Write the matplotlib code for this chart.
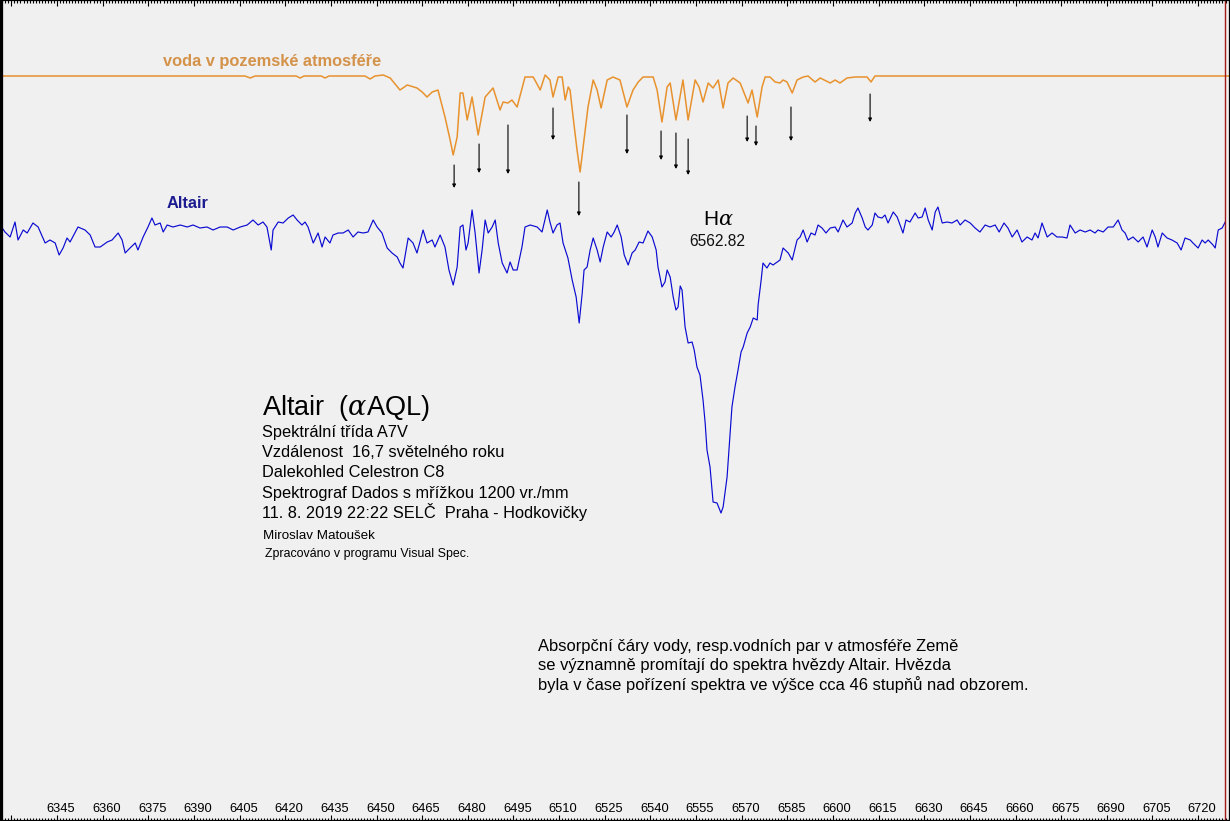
import matplotlib
matplotlib.use('Agg')
import matplotlib.pyplot as plt
from matplotlib.ticker import MultipleLocator

plt.rcParams['font.family'] = ['Liberation Sans', 'DejaVu Sans']
plt.rcParams['mathtext.fontset'] = 'custom'
plt.rcParams['mathtext.it'] = 'DejaVu Serif:italic'
plt.rcParams['mathtext.rm'] = 'Liberation Sans'

# ---- Altair spectrum (wavelength in Angstrom, relative intensity, arbitrary units) ----
altair_wl = [6327.0, 6327.9, 6329.6, 6331.2, 6332.2, 6333.9, 6335.2, 6337.1, 6338.8, 6341.1,
             6342.7, 6344.4, 6345.7, 6347.0, 6348.3, 6349.3, 6351.9, 6354.2, 6355.9, 6357.5,
             6359.2, 6361.5, 6363.1, 6365.1, 6366.4, 6367.4, 6369.0, 6370.7, 6371.6, 6373.3,
             6374.9, 6376.2, 6377.2, 6378.9, 6379.9, 6381.2, 6383.1, 6385.5, 6387.8, 6389.7,
             6392.0, 6394.3, 6396.3, 6398.6, 6400.9, 6402.9, 6405.2, 6407.5, 6409.4, 6411.1,
             6412.7, 6414.0, 6415.4, 6416.0, 6417.7, 6419.3, 6421.0, 6422.6, 6423.9, 6425.5,
             6426.5, 6427.5, 6429.2, 6430.8, 6432.1, 6433.1, 6434.7, 6435.7, 6437.4, 6439.0,
             6440.7, 6442.3, 6443.9, 6445.6, 6447.2, 6448.9, 6450.2, 6451.8, 6453.5, 6455.1,
             6456.8, 6457.7, 6458.7, 6460.4, 6462.0, 6463.3, 6465.3, 6466.6, 6468.3, 6469.2,
             6470.9, 6472.5, 6473.8, 6475.2, 6476.5, 6477.5, 6478.4, 6479.4, 6480.1, 6481.4,
             6482.4, 6483.7, 6484.7, 6485.7, 6486.7, 6488.0, 6489.0, 6490.0, 6491.3, 6492.9,
             6493.9, 6494.9, 6496.2, 6497.8, 6498.8, 6500.5, 6502.8, 6504.4, 6506.1, 6507.0,
             6508.0, 6509.3, 6510.3, 6511.3, 6512.9, 6514.3, 6515.6, 6516.6, 6517.6, 6518.2,
             6519.2, 6520.2, 6521.2, 6522.5, 6523.5, 6524.5, 6525.8, 6527.1, 6528.1, 6529.1,
             6530.4, 6531.4, 6532.7, 6534.0, 6535.0, 6536.3, 6537.6, 6539.2, 6540.6, 6541.9,
             6542.5, 6543.8, 6544.8, 6545.5, 6546.5, 6547.5, 6548.4, 6549.1, 6549.8, 6550.4,
             6551.4, 6552.4, 6553.7, 6554.4, 6555.3, 6556.3, 6557.3, 6558.0, 6558.6, 6559.6,
             6560.6, 6561.9, 6563.2, 6563.9, 6565.2, 6565.9, 6566.8, 6567.8, 6568.8, 6569.8,
             6570.5, 6571.8, 6572.8, 6573.8, 6575.1, 6575.4, 6576.4, 6577.0, 6578.3, 6579.3,
             6580.3, 6582.6, 6583.6, 6585.3, 6586.6, 6588.2, 6589.2, 6590.2, 6591.5, 6592.8,
             6594.1, 6595.1, 6596.4, 6597.7, 6599.1, 6600.7, 6601.7, 6603.3, 6604.6, 6606.3,
             6607.3, 6608.2, 6609.6, 6610.6, 6611.5, 6612.9, 6613.8, 6614.8, 6616.1, 6617.1,
             6618.1, 6619.8, 6621.1, 6621.7, 6623.0, 6624.0, 6625.3, 6627.0, 6628.0, 6629.3,
             6630.3, 6631.3, 6632.6, 6633.6, 6634.5, 6635.9, 6637.5, 6639.1, 6640.8, 6641.8,
             6643.4, 6645.1, 6646.7, 6648.3, 6650.0, 6651.6, 6653.3, 6654.6, 6656.2, 6657.5,
             6658.9, 6660.5, 6662.1, 6663.8, 6665.4, 6666.4, 6667.4, 6668.7, 6670.4, 6672.0,
             6673.6, 6675.3, 6676.9, 6677.9, 6679.6, 6681.2, 6682.9, 6684.5, 6686.1, 6687.1,
             6688.8, 6690.4, 6692.1, 6693.7, 6695.0, 6696.0, 6697.0, 6698.6, 6700.3, 6701.9,
             6703.2, 6704.9, 6705.9, 6706.8, 6708.2, 6709.8, 6711.4, 6713.1, 6714.4, 6715.7,
             6717.4, 6718.3, 6720.0, 6721.3, 6722.3, 6723.3, 6724.9, 6725.6, 6726.6, 6727.9,
             6728.9]
altair_flux = [593, 589, 584, 599, 581, 591, 588, 598, 594, 578,
               581, 578, 566, 573, 583, 579, 594, 591, 586, 574,
               574, 579, 581, 588, 581, 568, 573, 578, 571, 584,
               594, 603, 596, 598, 589, 596, 594, 596, 594, 596,
               593, 594, 591, 594, 594, 591, 594, 596, 601, 596,
               599, 594, 571, 591, 599, 598, 603, 606, 601, 596,
               599, 594, 578, 588, 574, 584, 578, 586, 588, 588,
               591, 584, 589, 588, 589, 601, 594, 588, 573, 568,
               564, 558, 553, 583, 578, 568, 591, 578, 581, 574,
               586, 574, 551, 536, 554, 594, 596, 571, 578, 611,
               588, 548, 571, 601, 588, 594, 601, 578, 558, 548,
               559, 551, 551, 574, 594, 596, 594, 589, 611, 599,
               588, 596, 598, 578, 563, 541, 524, 498, 528, 551,
               554, 571, 583, 571, 559, 574, 589, 584, 589, 596,
               584, 566, 556, 568, 571, 579, 578, 590, 584, 571,
               554, 534, 539, 551, 544, 524, 511, 514, 535, 531,
               494, 478, 479, 471, 454, 446, 421, 398, 371, 354,
               319, 318, 308, 314, 344, 374, 414, 434, 451, 469,
               474, 488, 494, 503, 501, 516, 541, 558, 553, 558,
               556, 561, 573, 568, 561, 581, 584, 591, 579, 588,
               586, 596, 593, 588, 593, 594, 589, 601, 594, 598,
               608, 613, 603, 594, 591, 596, 608, 604, 603, 606,
               598, 609, 604, 599, 588, 601, 599, 608, 603, 604,
               613, 601, 591, 609, 614, 598, 599, 598, 601, 596,
               601, 598, 593, 589, 596, 594, 596, 589, 598, 593,
               584, 591, 579, 584, 581, 588, 583, 598, 584, 588,
               584, 584, 583, 596, 588, 591, 589, 591, 588, 591,
               589, 594, 594, 601, 591, 588, 581, 584, 579, 584,
               574, 591, 584, 574, 588, 583, 581, 578, 571, 583,
               581, 578, 573, 581, 578, 581, 576, 573, 591, 593,
               599]

# ---- telluric water spectrum (same wavelength scale, offset intensity) ----
water_wl = [6326.3, 6406.8, 6408.5, 6410.1, 6423.6, 6424.9, 6426.2, 6431.8, 6433.1, 6434.4,
            6446.2, 6447.9, 6449.5, 6452.2, 6454.5, 6457.7, 6460.1, 6463.3, 6465.0, 6466.6,
            6468.3, 6470.2, 6472.5, 6474.2, 6475.2, 6476.5, 6477.5, 6478.4, 6479.8, 6481.4,
            6483.4, 6485.7, 6488.3, 6490.6, 6491.6, 6493.2, 6494.5, 6496.2, 6498.8, 6501.5,
            6503.8, 6505.4, 6507.0, 6508.0, 6509.7, 6511.0, 6512.0, 6513.0, 6513.6, 6514.6,
            6515.9, 6516.9, 6517.9, 6519.5, 6521.2, 6522.5, 6523.8, 6525.8, 6527.7, 6530.0,
            6532.3, 6534.3, 6536.0, 6537.6, 6540.9, 6542.2, 6543.8, 6545.5, 6546.5, 6548.4,
            6550.7, 6552.4, 6554.7, 6556.0, 6557.3, 6559.0, 6560.6, 6562.3, 6563.9, 6565.5,
            6567.2, 6569.5, 6572.1, 6573.4, 6575.1, 6576.7, 6577.7, 6579.3, 6581.0, 6582.6,
            6583.6, 6584.9, 6586.6, 6588.2, 6590.2, 6591.8, 6594.1, 6595.8, 6599.1, 6600.7,
            6602.3, 6604.6, 6607.3, 6611.2, 6612.5, 6613.8, 6730.5]
water_flux = [745, 745, 743, 745, 745, 743, 745, 745, 743, 745,
              745, 742, 745, 746, 743, 731, 736, 733, 729, 724,
              729, 731, 704, 681, 666, 684, 728, 728, 701, 724,
              686, 724, 733, 711, 719, 718, 721, 714, 744, 744,
              731, 746, 741, 724, 744, 744, 721, 734, 731, 704,
              671, 649, 674, 714, 741, 731, 713, 741, 744, 741,
              714, 731, 739, 744, 744, 731, 699, 734, 738, 701,
              741, 701, 741, 734, 719, 738, 733, 741, 713, 738,
              743, 738, 718, 731, 704, 734, 744, 744, 739, 738,
              741, 739, 728, 741, 744, 745, 739, 743, 738, 741,
              738, 743, 744, 744, 739, 745, 745]

# ---- marked telluric lines (arrows) ----
telluric_wl = [6475.5, 6483.7, 6493.2, 6508.0, 6516.5, 6532.3, 6543.5, 6548.4, 6552.4,
               6571.8, 6574.7, 6586.2, 6612.2]
arrow_top = [656, 677, 696, 713, 639, 706, 690, 688, 682, 705, 695, 714, 727]
arrow_bottom = [633, 648, 647, 681, 605, 667, 661, 652, 646, 679, 675, 680, 699]

tick_values = list(range(6345, 6721, 15))

W, H = 1230, 821
fig = plt.figure(figsize=(W / 100, H / 100), dpi=100)
bg = '#f0f0f0'
fig.patch.set_facecolor(bg)
ax = fig.add_axes([0, 0, 1, 1])
ax.set_facecolor(bg)
ax.set_xlim(6326.27, 6730.47)
ax.set_ylim(0, 821)

ax.plot(water_wl, water_flux, color='#e8922e', lw=1.1, solid_joinstyle='round')
ax.plot(altair_wl, altair_flux, color='#0a0ad2', lw=0.85, solid_joinstyle='round')

for wl, t, b in zip(telluric_wl, arrow_top, arrow_bottom):
    ax.annotate('', xy=(wl, b), xytext=(wl, t),
                arrowprops=dict(arrowstyle='-|>', color='black', lw=0.8,
                                mutation_scale=5, shrinkA=0, shrinkB=0))

ax.axvline(6728.9, color='#a01818', lw=1.0)

# ticks
ax.xaxis.set_major_locator(MultipleLocator(15))
ax.xaxis.set_minor_locator(MultipleLocator(1))
ax.tick_params(axis='x', which='major', direction='in', length=4.5, width=0.8,
               top=True, bottom=True, labelbottom=False, labeltop=False, color='black')
ax.tick_params(axis='x', which='minor', direction='in', length=2.2, width=0.8,
               top=True, bottom=True, color='black')
ax.tick_params(axis='y', left=False, right=False, labelleft=False)
for v in tick_values:
    ax.annotate(str(v), xy=(v, 0), xycoords=('data', 'axes fraction'),
                xytext=(4, 9), textcoords='offset pixels', ha='center', va='baseline',
                fontsize=9.3, color='#000000')

for s in ['top', 'bottom', 'right']:
    ax.spines[s].set_color('black')
    ax.spines[s].set_linewidth(1.6)
ax.spines['left'].set_color('black')
ax.spines['left'].set_linewidth(4.5)


def ftext(x, y, s, **kw):
    fig.text(x / W, 1 - y / H, s, va='baseline', ha='left', **kw)


ftext(163, 66, 'voda v pozemské atmosféře', fontsize=11.8, fontweight='bold', color='#d4924a')
ftext(167, 208, 'Altair', fontsize=11.8, fontweight='bold', color='#1c1c90')
ftext(703, 225, r'H$\mathit{\alpha}$', fontsize=15, color='black')
ftext(689, 246, '6562.82', fontsize=11.2, color='#111111')

ftext(262, 415, r'Altair  ($\mathit{\alpha}$AQL)', fontsize=19.5, color='black')
ftext(262, 437, 'Spektrální třída A7V', fontsize=11.8, color='black')
ftext(262, 457, 'Vzdálenost  16,7 světelného roku', fontsize=11.8, color='black')
ftext(262, 477, 'Dalekohled Celestron C8', fontsize=11.8, color='black')
ftext(262, 498, 'Spektrograf Dados s mřížkou 1200 vr./mm', fontsize=11.8, color='black')
ftext(262, 518, '11. 8. 2019 22:22 SELČ  Praha - Hodkovičky', fontsize=11.8, color='black')
ftext(263, 539, 'Miroslav Matoušek', fontsize=9.6, color='black')
ftext(265, 557, 'Zpracováno v programu Visual Spec.', fontsize=8.9, color='black')

ftext(538, 651, 'Absorpční čáry vody, resp.vodních par v atmosféře Země', fontsize=11.9, color='black')
ftext(538, 670, 'se významně promítají do spektra hvězdy Altair. Hvězda', fontsize=11.9, color='black')
ftext(538, 690, 'byla v čase pořízení spektra ve výšce cca 46 stupňů nad obzorem.', fontsize=11.9, color='black')

fig.savefig('out.png', dpi=100, facecolor=bg)
